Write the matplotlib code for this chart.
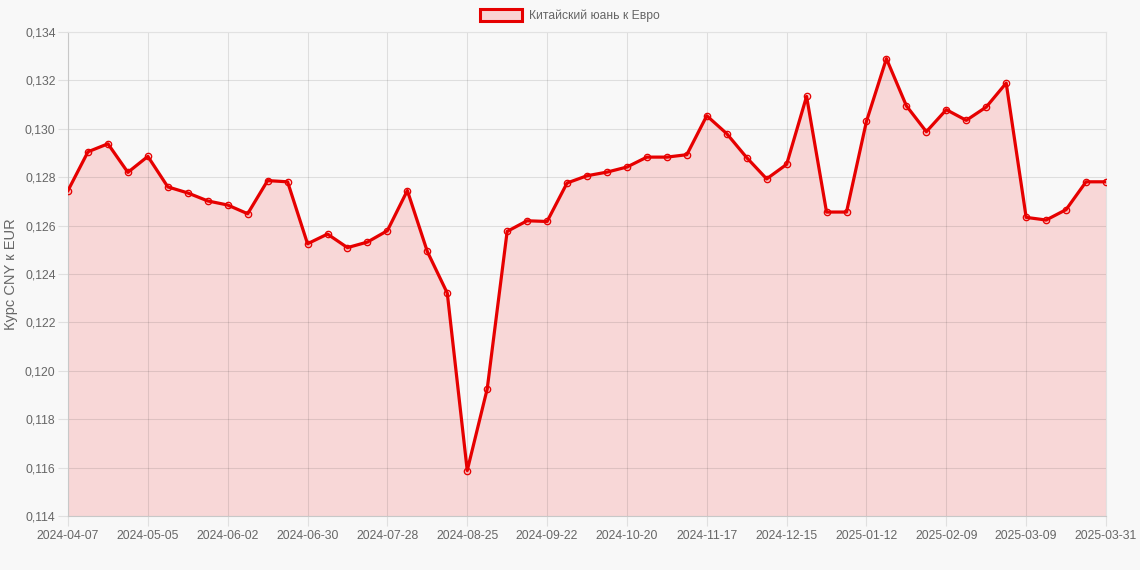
#!/usr/bin/env python3
import matplotlib
matplotlib.use('Agg')
import matplotlib.pyplot as plt
from matplotlib.patches import Patch
from matplotlib.ticker import FuncFormatter, FixedLocator
import pandas as pd

# weekly dates, the last point is the current day
dates = [d.strftime('%Y-%m-%d') for d in pd.date_range('2024-04-07', periods=52, freq='7D')] + ['2025-03-31']

rates = [0.12745, 0.12905, 0.12938, 0.12820, 0.12886, 0.12760, 0.12735, 0.12702, 0.12685, 0.12649,
         0.12786, 0.12781, 0.12525, 0.12565, 0.12509, 0.12532, 0.12579, 0.12745, 0.12493, 0.12321,
         0.11588, 0.11925, 0.12576, 0.12620, 0.12617, 0.12776, 0.12806, 0.12821, 0.12842, 0.12883,
         0.12883, 0.12893, 0.13054, 0.12980, 0.12881, 0.12793, 0.12853, 0.13134, 0.12656, 0.12656,
         0.13031, 0.13290, 0.13095, 0.12988, 0.13079, 0.13035, 0.13090, 0.13189, 0.12634, 0.12623,
         0.12666, 0.12781, 0.12781]

series_label = 'Китайский юань к Евро'
y_label = 'Курс CNY к EUR'

bg = '#f8f8f8'
text_col = '#666666'
red = '#e60000'

plt.rcParams['font.family'] = ['Liberation Sans', 'DejaVu Sans']

fig = plt.figure(figsize=(11.4, 5.7), dpi=100, facecolor=bg)
ax = fig.add_axes([68/1140, 1 - 516/570, (1106 - 68)/1140, (516 - 32)/570])
ax.set_facecolor(bg)

x = list(range(len(rates)))
ax.fill_between(x, rates, 0.114, color='#ff0000', alpha=0.13, linewidth=0, zorder=1)
ax.plot(x, rates, color=red, linewidth=2.3, marker='o', markersize=4.6,
        markerfacecolor=(1, 0, 0, 0.15), markeredgecolor=red, markeredgewidth=0.9, zorder=3)

ax.set_xlim(0, len(rates) - 1)
ax.set_ylim(0.114, 0.134)

tick_idx = list(range(0, len(dates), 4))
ax.xaxis.set_major_locator(FixedLocator(tick_idx))
ax.set_xticklabels([dates[i] for i in tick_idx])
ax.set_yticks([0.114 + 0.002*i for i in range(11)])
ax.yaxis.set_major_formatter(FuncFormatter(lambda v, p: ('%.3f' % v).replace('.', ',')))

ax.grid(True, color='black', alpha=0.1, linewidth=0.8)
for line in ax.get_xgridlines() + ax.get_ygridlines():
    line.set_zorder(2)
for s in ax.spines.values():
    s.set_color('#e2e2e2')
    s.set_linewidth(0.8)
ax.spines['left'].set_color('#c8c8c8')
ax.spines['bottom'].set_color('#c8c8c8')

ax.tick_params(axis='both', colors='#e0e0e0', labelcolor=text_col, labelsize=8.8, length=7, width=0.8)
ax.tick_params(axis='x', pad=3)
ax.tick_params(axis='y', pad=2)

ax.set_ylabel(y_label, color=text_col, fontsize=10.5)
ax.yaxis.set_label_coords((18 - 68)/1038, 0.5)

handle = Patch(facecolor=(1, 0, 0, 0.15), edgecolor=red, linewidth=2.2, label=series_label)
fig.legend(handles=[handle], loc='center', bbox_to_anchor=(0.5, 1 - 15.5/570), frameon=False,
           fontsize=8.7, labelcolor=text_col, handlelength=3.5, handleheight=1.1, handletextpad=0.55)

fig.savefig('out.png', dpi=100, facecolor=bg)
